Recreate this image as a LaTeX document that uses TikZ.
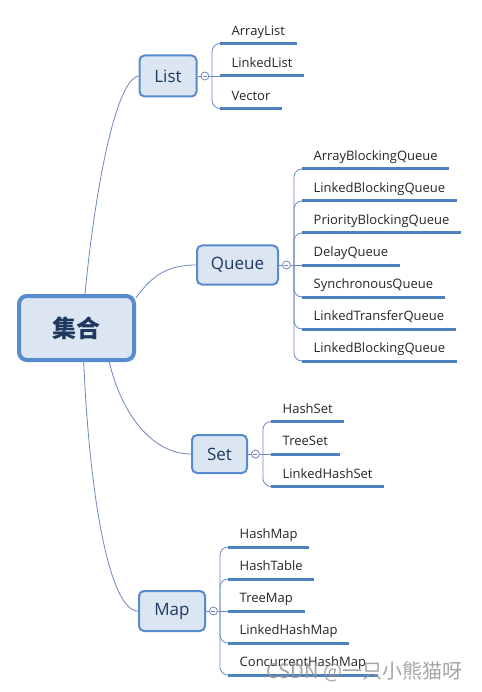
\documentclass[tikz,border=0pt]{standalone}
\usepackage{fontspec}
\setmainfont{Open Sans}
\newfontfamily\cjk{Noto Sans CJK SC}
\usetikzlibrary{positioning}

\definecolor{boxfill}{RGB}{220,230,242}
\definecolor{boxline}{RGB}{86,139,208}
\definecolor{linkcol}{RGB}{110,135,190}
\definecolor{leafcol}{RGB}{79,129,189}
\definecolor{boxtext}{RGB}{31,56,96}
\definecolor{marktext}{RGB}{150,150,150}

\tikzset{
  root/.style={draw=boxline,fill=boxfill,line width=4pt,rounded corners=8pt,minimum width=115pt,minimum height=64pt,inner sep=0pt,font=\cjk\bfseries\fontsize{24}{28}\selectfont,text=boxtext},
  group/.style={draw=boxline,fill=boxfill,line width=2pt,rounded corners=5pt,inner sep=0pt,font=\fontsize{17}{20}\selectfont,text=boxtext},
  fold/.style={circle,draw=linkcol,fill=white,line width=0.8pt,minimum size=8pt,inner sep=0pt,
    path picture={\draw [linkcol,line width=0.6pt] ([xshift=2pt]path picture bounding box.west) -- ([xshift=-2pt]path picture bounding box.east);}},
  link/.style={draw=linkcol,line width=0.8pt},
  branch/.style={link,rounded corners=8pt,to path={|- (\tikztotarget)}},
  leaf/.style={anchor=south west,inner xsep=11.5pt,inner ysep=4pt,text height=10pt,text depth=4pt,font=\fontsize{13}{15}\selectfont,text=black!85,
    append after command={(\tikzlastnode.south west) edge [draw=leafcol,line width=3pt] (\tikzlastnode.south east)}},
  wmark/.style={font=\cjk\fontsize{20}{24}\selectfont,text=marktext,opacity=0.85}
}

\begin{document}
\begin{tikzpicture}[x=1pt,y=-1pt]

  \path [fill=white,use as bounding box] (0,0) rectangle (481,692);

  \node [root] (coll) at (76.5,328) {集合};

  \node [group,minimum width=57pt,minimum height=41pt] (List) at (168,76) {List};
  \node [group,minimum width=81pt,minimum height=39pt] (Queue) at (237.5,265) {Queue};
  \node [group,minimum width=55pt,minimum height=38pt] (Set) at (219.5,454) {Set};
  \node [group,minimum width=66pt,minimum height=40pt] (Map) at (172,611) {Map};

  \draw [link] (coll.76) .. controls +(10,-104) and +(-23,4) .. (List.west);
  \draw [link] (coll.27) .. controls +(15,-20) and +(-31,0) .. (Queue.west);
  \draw [link] (coll.-46) .. controls +(11,48) and +(-41,0) .. (Set.west);
  \draw [link] (coll.-78) .. controls +(6,138) and +(-28,0) .. (Map.west);

  \node [fold,right=3pt of List] (List_f) {};
  \node [fold,right=3pt of Queue] (Queue_f) {};
  \node [fold,right=3pt of Set] (Set_f) {};
  \node [fold,right=3pt of Map] (Map_f) {};

  \node [leaf] (List_1) at (220,43.5) {ArrayList};
  \node [leaf] (List_2) at (220,76) {LinkedList};
  \node [leaf] (List_3) at (220,108.5) {Vector};

  \node [leaf] (Queue_1) at (302,169) {ArrayBlockingQueue};
  \node [leaf] (Queue_2) at (302,201) {LinkedBlockingQueue};
  \node [leaf] (Queue_3) at (302,233) {PriorityBlockingQueue};
  \node [leaf] (Queue_4) at (302,265) {DelayQueue};
  \node [leaf] (Queue_5) at (302,297) {SynchronousQueue};
  \node [leaf] (Queue_6) at (302,329) {LinkedTransferQueue};
  \node [leaf] (Queue_7) at (302,361) {LinkedBlockingQueue};

  \node [leaf] (Set_1) at (271,421.5) {HashSet};
  \node [leaf] (Set_2) at (271,454) {TreeSet};
  \node [leaf] (Set_3) at (271,486.5) {LinkedHashSet};

  \node [leaf] (Map_1) at (228,547) {HashMap};
  \node [leaf] (Map_2) at (228,579) {HashTable};
  \node [leaf] (Map_3) at (228,611) {TreeMap};
  \node [leaf] (Map_4) at (228,643) {LinkedHashMap};
  \node [leaf] (Map_5) at (228,675) {ConcurrentHashMap};

  \coordinate (List_j) at ([xshift=-8pt]List_2.south west);
  \coordinate (Queue_j) at ([xshift=-8pt]Queue_4.south west);
  \coordinate (Set_j) at ([xshift=-8pt]Set_2.south west);
  \coordinate (Map_j) at ([xshift=-8pt]Map_3.south west);

  \draw [link] (List) -- (List_f) -- (List_2.south west);
  \draw [link] (Queue) -- (Queue_f) -- (Queue_4.south west);
  \draw [link] (Set) -- (Set_f) -- (Set_2.south west);
  \draw [link] (Map) -- (Map_f) -- (Map_3.south west);

  \path (List_j) edge [branch] (List_1.south west) edge [branch] (List_3.south west);
  \path (Queue_j) edge [branch] (Queue_1.south west) edge [branch] (Queue_2.south west)
    edge [branch] (Queue_3.south west) edge [branch] (Queue_5.south west)
    edge [branch] (Queue_6.south west) edge [branch] (Queue_7.south west);
  \path (Set_j) edge [branch] (Set_1.south west) edge [branch] (Set_3.south west);
  \path (Map_j) edge [branch] (Map_1.south west) edge [branch] (Map_2.south west)
    edge [branch] (Map_4.south west) edge [branch] (Map_5.south west);

  \node [wmark,anchor=east] (csdn) at (466,672) {CSDN @一只小熊猫呀};

\end{tikzpicture}
\end{document}
